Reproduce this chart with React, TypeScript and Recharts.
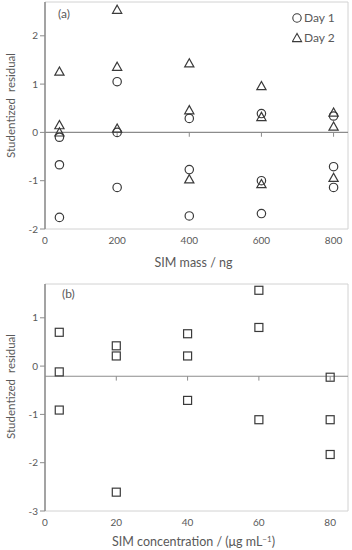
import React from "react";
import { ReferenceLine, Scatter, ScatterChart, XAxis, YAxis } from "recharts";

// (a) residuals per SIM mass level, three replicates per level and day
const massLevels = [40, 200, 400, 600, 800];
const day1Residuals = [
  [-0.1, -0.67, -1.76],
  [1.05, 0.0, -1.14],
  [0.29, -0.77, -1.73],
  [0.39, -1.0, -1.68],
  [0.34, -0.71, -1.14],
];
const day2Residuals = [
  [1.26, 0.15, 0.0],
  [2.54, 1.36, 0.08],
  [1.43, 0.46, -0.97],
  [0.96, 0.32, -1.07],
  [0.41, 0.12, -0.94],
];
const massTicks = [0, 200, 400, 600, 800];
const residualTicksA = [-2, -1, 0, 1, 2];

// (b) residuals per SIM concentration level
const concLevels = [4, 20, 40, 60, 80];
const concResiduals = [
  [0.7, -0.12, -0.91],
  [0.42, 0.21, -2.61],
  [0.67, 0.21, -0.71],
  [1.57, 0.8, -1.11],
  [-0.23, -1.11, -1.83],
];
const concTicks = [0, 20, 40, 60, 80];
const residualTicksB = [-3, -2, -1, 0, 1];
const concAxisCross = -0.21;

const FONT = "Lato, 'Open Sans', sans-serif";
const TEXT = "#595959";
const INK = "#3a3a3a";
const AXIS = "#8c8c8c";
const FRAME = "#d2d2d2";

const toPoints = (levels: number[], values: number[][]) =>
  levels.flatMap((x, i) => values[i].map((y) => ({ x, y })));

const Ring = (p: any) => (
  <circle cx={p.cx} cy={p.cy} r={4.2} fill="none" stroke={INK} strokeWidth={1.2} />
);
const Tri = (p: any) => (
  <polygon
    points={`${p.cx},${p.cy - 4.6} ${p.cx - 4.6},${p.cy + 3.6} ${p.cx + 4.6},${p.cy + 3.6}`}
    fill="none"
    stroke={INK}
    strokeWidth={1.2}
  />
);
const Box = (p: any) => (
  <rect x={p.cx - 4} y={p.cy - 4} width={8} height={8} fill="none" stroke={INK} strokeWidth={1.2} />
);

const YTitle = ({ viewBox, shift }: any) => {
  const cy = viewBox.y + viewBox.height / 2 + shift;
  return (
    <text
      transform={`translate(10,${cy}) rotate(-90)`}
      textAnchor="middle"
      dominantBaseline="central"
      fontSize={11.5}
      fontFamily={FONT}
      fill={TEXT}
      style={{ whiteSpace: "pre" }}
    >
      {"Studentized  residual"}
    </text>
  );
};

const XTitle = ({ viewBox, baseline, children }: any) => (
  <text
    x={viewBox.x + viewBox.width / 2 - 3}
    y={viewBox.y + baseline}
    textAnchor="middle"
    fontSize={12.5}
    fontFamily={FONT}
    fill={TEXT}
  >
    {children}
  </text>
);

const tickStyle = { fontSize: 10, fill: TEXT, fontFamily: FONT };

const overlayText = (top: number, left: number): React.CSSProperties => ({
  position: "absolute",
  top,
  left,
  fontFamily: FONT,
  fontSize: 12,
  color: TEXT,
  lineHeight: "14px",
});

function DayLegend() {
  return (
    <div style={{ ...overlayText(8, 292), lineHeight: "20px" }}>
      <div style={{ display: "flex", alignItems: "center" }}>
        <svg width={11} height={12}>
          <circle cx={5} cy={6} r={4.2} fill="none" stroke={INK} strokeWidth={1.1} />
        </svg>
        <span style={{ marginLeft: 1 }}>Day 1</span>
      </div>
      <div style={{ display: "flex", alignItems: "center" }}>
        <svg width={11} height={12}>
          <polygon points="5,1.4 0.4,9.6 9.6,9.6" fill="none" stroke={INK} strokeWidth={1.1} />
        </svg>
        <span style={{ marginLeft: 1 }}>Day 2</span>
      </div>
    </div>
  );
}

export default function App() {
  const day1 = toPoints(massLevels, day1Residuals);
  const day2 = toPoints(massLevels, day2Residuals);
  const conc = toPoints(concLevels, concResiduals);

  return (
    <div style={{ position: "absolute", top: 0, left: 0, width: 352, height: 550, background: "#fff" }}>
      <ScatterChart width={352} height={272} margin={{ top: 2, right: 4, bottom: 0, left: 0 }}>
        <XAxis
          type="number"
          dataKey="x"
          domain={[0, 840]}
          ticks={massTicks}
          allowDataOverflow
          axisLine={{ stroke: FRAME }}
          tickLine={false}
          tick={tickStyle}
          height={43}
          label={<XTitle baseline={38}>SIM mass / ng</XTitle>}
        />
        <YAxis
          type="number"
          dataKey="y"
          domain={[-2, 2.7]}
          ticks={residualTicksA}
          allowDataOverflow
          width={45}
          axisLine={{ stroke: AXIS, strokeWidth: 1.6 }}
          tickLine={{ stroke: AXIS }}
          tickSize={5}
          tickMargin={2}
          tick={tickStyle}
          label={<YTitle shift={-10} />}
        />
        <ReferenceLine y={2.7} stroke={FRAME} />
        <ReferenceLine x={840} stroke={FRAME} />
        <ReferenceLine y={0} stroke={AXIS} strokeWidth={1.2} />
        {massTicks.slice(1).map((t) => (
          <ReferenceLine
            key={t}
            segment={[
              { x: t, y: 0 },
              { x: t, y: -0.09 },
            ]}
            stroke={AXIS}
          />
        ))}
        <Scatter name="Day 1" data={day1} shape={Ring} isAnimationActive={false} />
        <Scatter name="Day 2" data={day2} shape={Tri} isAnimationActive={false} />
      </ScatterChart>
      <div style={overlayText(7, 58)}>(a)</div>
      <DayLegend />

      <div style={{ position: "absolute", top: 272, left: 0 }}>
        <ScatterChart width={352} height={278} margin={{ top: 12, right: 4, bottom: 0, left: 0 }}>
          <XAxis
            type="number"
            dataKey="x"
            domain={[0, 85]}
            ticks={concTicks}
            allowDataOverflow
            axisLine={{ stroke: FRAME }}
            tickLine={false}
            tick={tickStyle}
            height={39}
            label={
              <XTitle baseline={35}>
                SIM concentration / (μg mL
                <tspan dy={-4} fontSize={8}>
                  −1
                </tspan>
                <tspan dy={4}>)</tspan>
              </XTitle>
            }
          />
          <YAxis
            type="number"
            dataKey="y"
            domain={[-3, 1.7]}
            ticks={residualTicksB}
            allowDataOverflow
            width={45}
            axisLine={{ stroke: AXIS, strokeWidth: 1.6 }}
            tickLine={{ stroke: AXIS }}
            tickSize={5}
            tickMargin={2}
            tick={tickStyle}
            label={<YTitle shift={-11} />}
          />
          <ReferenceLine y={1.7} stroke={FRAME} />
          <ReferenceLine x={85} stroke={FRAME} />
          <ReferenceLine y={concAxisCross} stroke={AXIS} strokeWidth={1.2} />
          {concTicks.slice(1).map((t) => (
            <ReferenceLine
              key={t}
              segment={[
                { x: t, y: concAxisCross },
                { x: t, y: concAxisCross - 0.09 },
              ]}
              stroke={AXIS}
            />
          ))}
          <Scatter data={conc} shape={Box} isAnimationActive={false} />
        </ScatterChart>
        <div style={overlayText(15, 62)}>(b)</div>
      </div>
    </div>
  );
}
